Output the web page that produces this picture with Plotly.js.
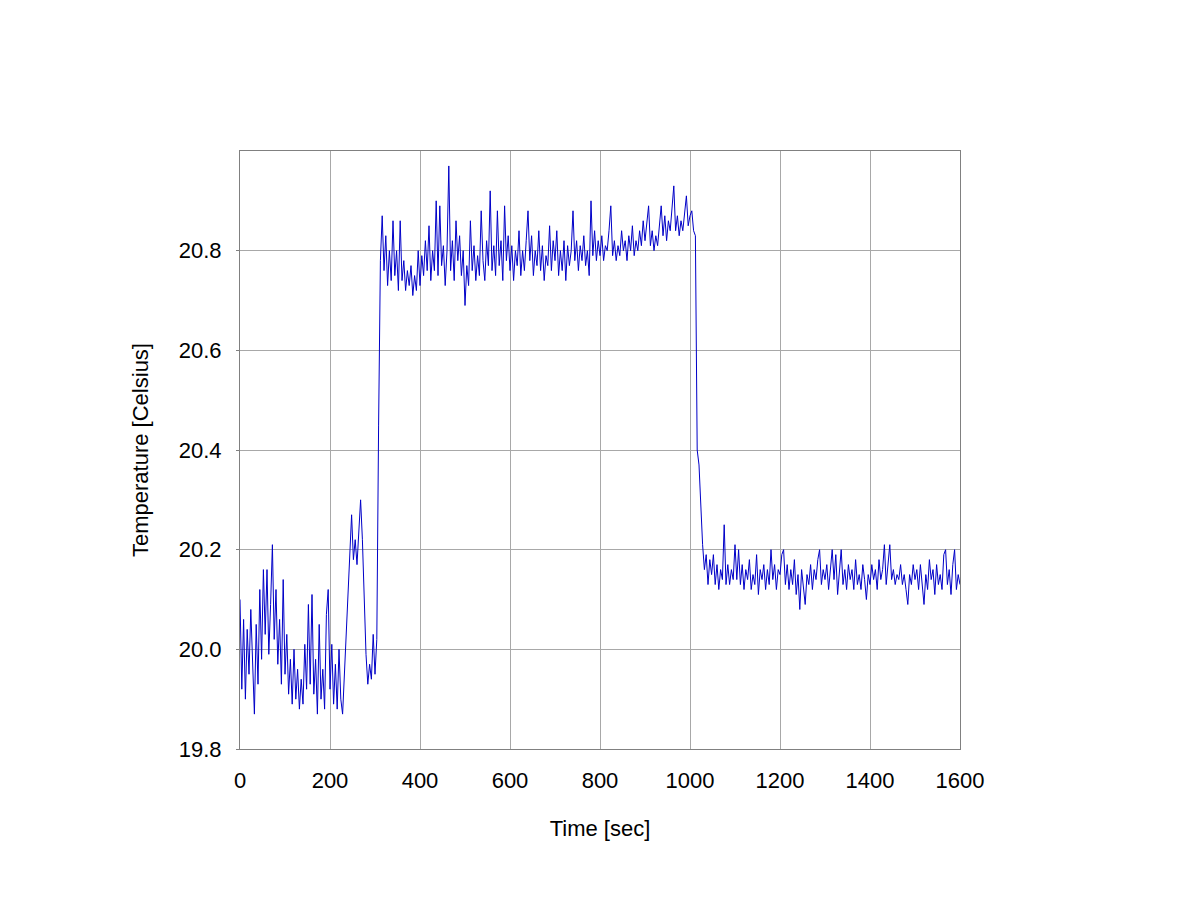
<!DOCTYPE html>
<html>
<head>
<meta charset="utf-8">
<script src="https://cdn.plot.ly/plotly-3.0.1.min.js"></script>
<style>
  html, body { margin: 0; padding: 0; background: #fff; }
  #plotDiv { width: 1200px; height: 900px; }
</style>
</head>
<body>
<div id="plotDiv"></div>
<script>
// readings every 4 s, split into the three phases of the run
const sampleStep = 4;

const coolStart = 0;
const coolTemps = [
    20.10, 19.92, 20.06, 19.90, 20.04, 19.95, 20.08, 19.96, 19.87, 20.05, 19.93, 20.12, 19.98,
    20.16, 20.03, 20.16, 19.99, 20.09, 20.21, 20.02, 20.12, 19.97, 20.06, 19.93, 20.14,
    19.95, 20.03, 19.91, 19.98, 19.89, 20.00, 19.90, 19.96, 19.88, 19.94, 19.89, 20.01, 19.92,
    20.09, 19.93, 20.11, 19.91, 19.98, 19.87, 20.05, 19.90, 19.96, 19.88, 20.07, 20.12,
    19.92, 20.01, 19.89, 19.97, 19.88, 20.00, 19.90, 19.87, 19.95, 20.00, 20.10, 20.16, 20.27,
    20.18, 20.22, 20.17, 20.25, 20.30, 20.22, 20.10, 19.99, 19.93, 19.97, 19.94, 20.03,
    19.95, 20.02
];

const warmStart = 308;
const warmTemps = [
    20.45, 20.78, 20.87, 20.76, 20.83, 20.73, 20.80, 20.74, 20.86, 20.75, 20.80, 20.72,
    20.86, 20.74, 20.78, 20.72, 20.76, 20.73, 20.77, 20.71, 20.75, 20.72, 20.80,
    20.73, 20.79, 20.75, 20.82, 20.76, 20.85, 20.74, 20.80, 20.76, 20.90, 20.75, 20.89, 20.77,
    20.81, 20.73, 20.80, 20.97, 20.76, 20.82, 20.74, 20.86, 20.78, 20.83, 20.75, 20.80,
    20.69, 20.77, 20.73, 20.86, 20.76, 20.81, 20.74, 20.79, 20.75, 20.88, 20.78, 20.74, 20.82,
    20.77, 20.92, 20.76, 20.81, 20.75, 20.88, 20.77, 20.82, 20.74, 20.89, 20.78, 20.83,
    20.76, 20.81, 20.74, 20.80, 20.77, 20.84, 20.75, 20.80, 20.76, 20.82, 20.88, 20.78, 20.83,
    20.75, 20.80, 20.77, 20.84, 20.76, 20.81, 20.74, 20.79, 20.77, 20.85, 20.76, 20.82,
    20.78, 20.84, 20.75, 20.80, 20.76, 20.82, 20.74, 20.81, 20.77, 20.80, 20.88, 20.78, 20.82,
    20.76, 20.81, 20.78, 20.83, 20.77, 20.80, 20.75, 20.90, 20.79, 20.84, 20.78, 20.82,
    20.79, 20.83, 20.78, 20.81, 20.80, 20.84, 20.89, 20.79, 20.82, 20.78, 20.81, 20.79, 20.84,
    20.80, 20.82, 20.78, 20.83, 20.80, 20.85, 20.79, 20.82, 20.80, 20.84, 20.81, 20.86,
    20.82, 20.85, 20.89, 20.81, 20.84, 20.80, 20.83, 20.81, 20.86, 20.89, 20.83, 20.87, 20.82,
    20.86, 20.84, 20.88, 20.93, 20.84, 20.87, 20.83, 20.86, 20.84, 20.88, 20.91, 20.85,
    20.87, 20.88, 20.84, 20.83
];

const settleStart = 1016;
const settleTemps = [
    20.40, 20.37, 20.28, 20.21, 20.16, 20.19, 20.13, 20.18, 20.15, 20.19, 20.13, 20.17,
    20.12, 20.16, 20.14, 20.25, 20.13, 20.17, 20.13, 20.16, 20.14,
    20.21, 20.14, 20.20, 20.13, 20.17, 20.12, 20.16, 20.14, 20.18, 20.12, 20.15, 20.13, 20.19,
    20.11, 20.16, 20.14, 20.17, 20.12, 20.16, 20.13, 20.20, 20.14, 20.17, 20.12, 20.16,
    20.15, 20.19, 20.20, 20.13, 20.17, 20.12, 20.16, 20.13, 20.18, 20.11, 20.15, 20.08, 20.16,
    20.12, 20.09, 20.15, 20.13, 20.17, 20.12, 20.16, 20.14, 20.18, 20.20, 20.13, 20.16,
    20.14, 20.17, 20.12, 20.16, 20.20, 20.14, 20.19, 20.11, 20.15, 20.20, 20.13, 20.16, 20.12,
    20.17, 20.14, 20.16, 20.12, 20.18, 20.13, 20.15, 20.12, 20.17, 20.14, 20.10, 20.15,
    20.13, 20.17, 20.14, 20.16, 20.12, 20.18, 20.14, 20.16, 20.21, 20.13, 20.17, 20.21, 20.14,
    20.16, 20.13, 20.15, 20.14, 20.17, 20.13, 20.15, 20.12, 20.09, 20.15, 20.13, 20.17,
    20.14, 20.16, 20.12, 20.17, 20.13, 20.09, 20.15, 20.12, 20.18, 20.14, 20.16, 20.11, 20.17,
    20.13, 20.15, 20.12, 20.19, 20.20, 20.13, 20.16, 20.11, 20.17, 20.20, 20.12, 20.15,
    20.13
];

const xTicks = [0, 200, 400, 600, 800, 1000, 1200, 1400, 1600];
const yTicks = [19.8, 20.0, 20.2, 20.4, 20.6, 20.8];
const yTickText = ['19.8', '20.0', '20.2', '20.4', '20.6', '20.8'];

function phaseTimes(start, values) {
    return values.map((v, i) => start + i * sampleStep);
}

const times = [].concat(
    phaseTimes(coolStart, coolTemps),
    phaseTimes(warmStart, warmTemps),
    phaseTimes(settleStart, settleTemps)
);
const temps = [].concat(coolTemps, warmTemps, settleTemps);

const font = 'Liberation Sans, Arial, sans-serif';

const traceTemp = {
    x: times,
    y: temps,
    mode: 'lines',
    name: 'Temperature',
    line: {color: 'rgb(0,0,200)', width: 1}
};

const layout = {
    width: 1200,
    height: 900,
    margin: {l: 240, r: 240, t: 151, b: 151},
    paper_bgcolor: '#ffffff',
    plot_bgcolor: '#ffffff',
    showlegend: false,
    font: {family: font, size: 22, color: '#000'},
    xaxis: {
        range: [0, 1600],
        tickvals: xTicks,
        showgrid: true,
        gridcolor: '#a8a8a8',
        gridwidth: 1,
        zeroline: false,
        showline: true,
        linecolor: '#808080',
        linewidth: 1,
        mirror: true,
        ticks: '',
        ticklabelstandoff: 12,
        tickfont: {family: font, size: 22, color: '#000'},
        title: {text: 'Time [sec]', font: {family: font, size: 22, color: '#000'}, standoff: 28}
    },
    yaxis: {
        range: [19.8, 21.0],
        tickvals: yTicks,
        ticktext: yTickText,
        showgrid: true,
        gridcolor: '#a8a8a8',
        gridwidth: 1,
        zeroline: false,
        showline: true,
        linecolor: '#808080',
        linewidth: 1,
        mirror: true,
        ticks: 'outside',
        ticklen: 3,
        tickcolor: '#808080',
        ticklabelstandoff: 10,
        tickfont: {family: font, size: 22, color: '#000'},
        title: {text: 'Temperature [Celsius]', font: {family: font, size: 22, color: '#000'}, standoff: 24}
    }
};

Plotly.newPlot('plotDiv', [traceTemp], layout, {staticPlot: true}).catch(error => {
    console.error('Error in plot:', error);
});
</script>
</body>
</html>
